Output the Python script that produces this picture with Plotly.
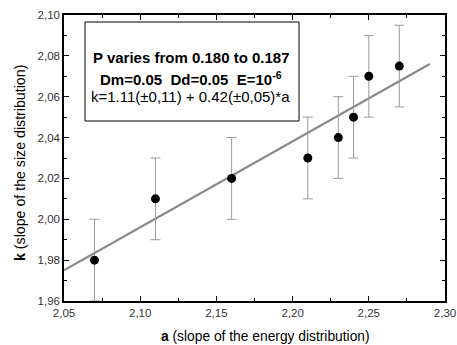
import plotly.graph_objects as go

a_vals = [2.07, 2.11, 2.16, 2.21, 2.23, 2.24, 2.25, 2.27]
k_vals = [1.98, 2.01, 2.02, 2.03, 2.04, 2.05, 2.07, 2.075]
k_err = [0.02, 0.02, 0.02, 0.02, 0.02, 0.02, 0.02, 0.02]
fit_a = [2.05, 2.29]
fit_k = [1.975, 2.076]

x_ticks = [2.05, 2.10, 2.15, 2.20, 2.25, 2.30]
y_ticks = [1.96, 1.98, 2.00, 2.02, 2.04, 2.06, 2.08, 2.10]

L, R, T, B = 64, 445, 15, 301
W, H = 457, 345
pw, ph = R - L, B - T


def px(x):
    return (x - L) / pw


def py(y):
    return (B - y) / ph


fig = go.Figure()
fig.add_trace(go.Scatter(x=fit_a, y=fit_k, mode="lines",
                         line=dict(color="#8a8a8a", width=2.2), showlegend=False))
fig.add_trace(go.Scatter(x=a_vals, y=k_vals, mode="markers",
                         marker=dict(color="black", size=9),
                         error_y=dict(type="data", array=k_err, color="#9a9a9a",
                                      thickness=1, width=5),
                         showlegend=False))

tick_font = dict(family="Arial, Liberation Sans", size=11.5, color="#333")
axis_common = dict(showline=True, linecolor="black", linewidth=1.5, mirror="ticks",
                   ticks="inside", ticklen=5, tickcolor="black", showgrid=False,
                   zeroline=False, tickfont=tick_font, tickformat=".2f", automargin=False)

fig.update_xaxes(range=[2.05, 2.30], tickvals=x_ticks,
                 minor=dict(ticks="inside", ticklen=3, dtick=0.025, tick0=2.05, tickcolor="black"),
                 **axis_common)
fig.update_yaxes(range=[1.96, 2.10], tickvals=y_ticks,
                 minor=dict(ticks="inside", ticklen=3, dtick=0.01, tick0=1.96, tickcolor="black"),
                 **axis_common)

ann = dict(xref="paper", yref="paper", showarrow=False, xanchor="center", yanchor="middle")
fig.add_annotation(x=px(265), y=py(336.5),
                   text="<b>a</b> (slope of the energy distribution)",
                   font=dict(family="Arial, Liberation Sans", size=13.8, color="black"), **ann)
fig.add_annotation(x=px(20), y=py(163),
                   text="<b>k</b> (slope of the size distribution)",
                   font=dict(family="Arial, Liberation Sans", size=14.2, color="black"),
                   textangle=-90, **ann)

fig.add_shape(type="rect", xref="paper", yref="paper",
              x0=px(85), x1=px(299), y0=py(121), y1=py(22),
              line=dict(color="black", width=1), fillcolor="white", layer="above")

bold_font = dict(family="Arial, Liberation Sans", size=15, color="black")
norm_font = dict(family="Arial, Liberation Sans", size=15, color="black")
fig.add_annotation(x=px(191), y=py(57),
                   text="<b>P varies from 0.180 to 0.187</b>", font=bold_font, **ann)
fig.add_annotation(x=px(191), y=py(78),
                   text="<b>Dm=0.05  Dd=0.05  E=10<sup>-6</sup></b>", font=bold_font, **ann)
fig.add_annotation(x=px(190), y=py(97),
                   text="k=1.11(±0,11) + 0.42(±0,05)*a", font=norm_font, **ann)

fig.update_layout(width=W, height=H, margin=dict(l=L, r=W - R, t=T, b=H - B),
                  plot_bgcolor="white", paper_bgcolor="white", separators=",.")
fig.write_html("out.html", config={"displayModeBar": False},
               post_script="document.body.style.margin='0';")
